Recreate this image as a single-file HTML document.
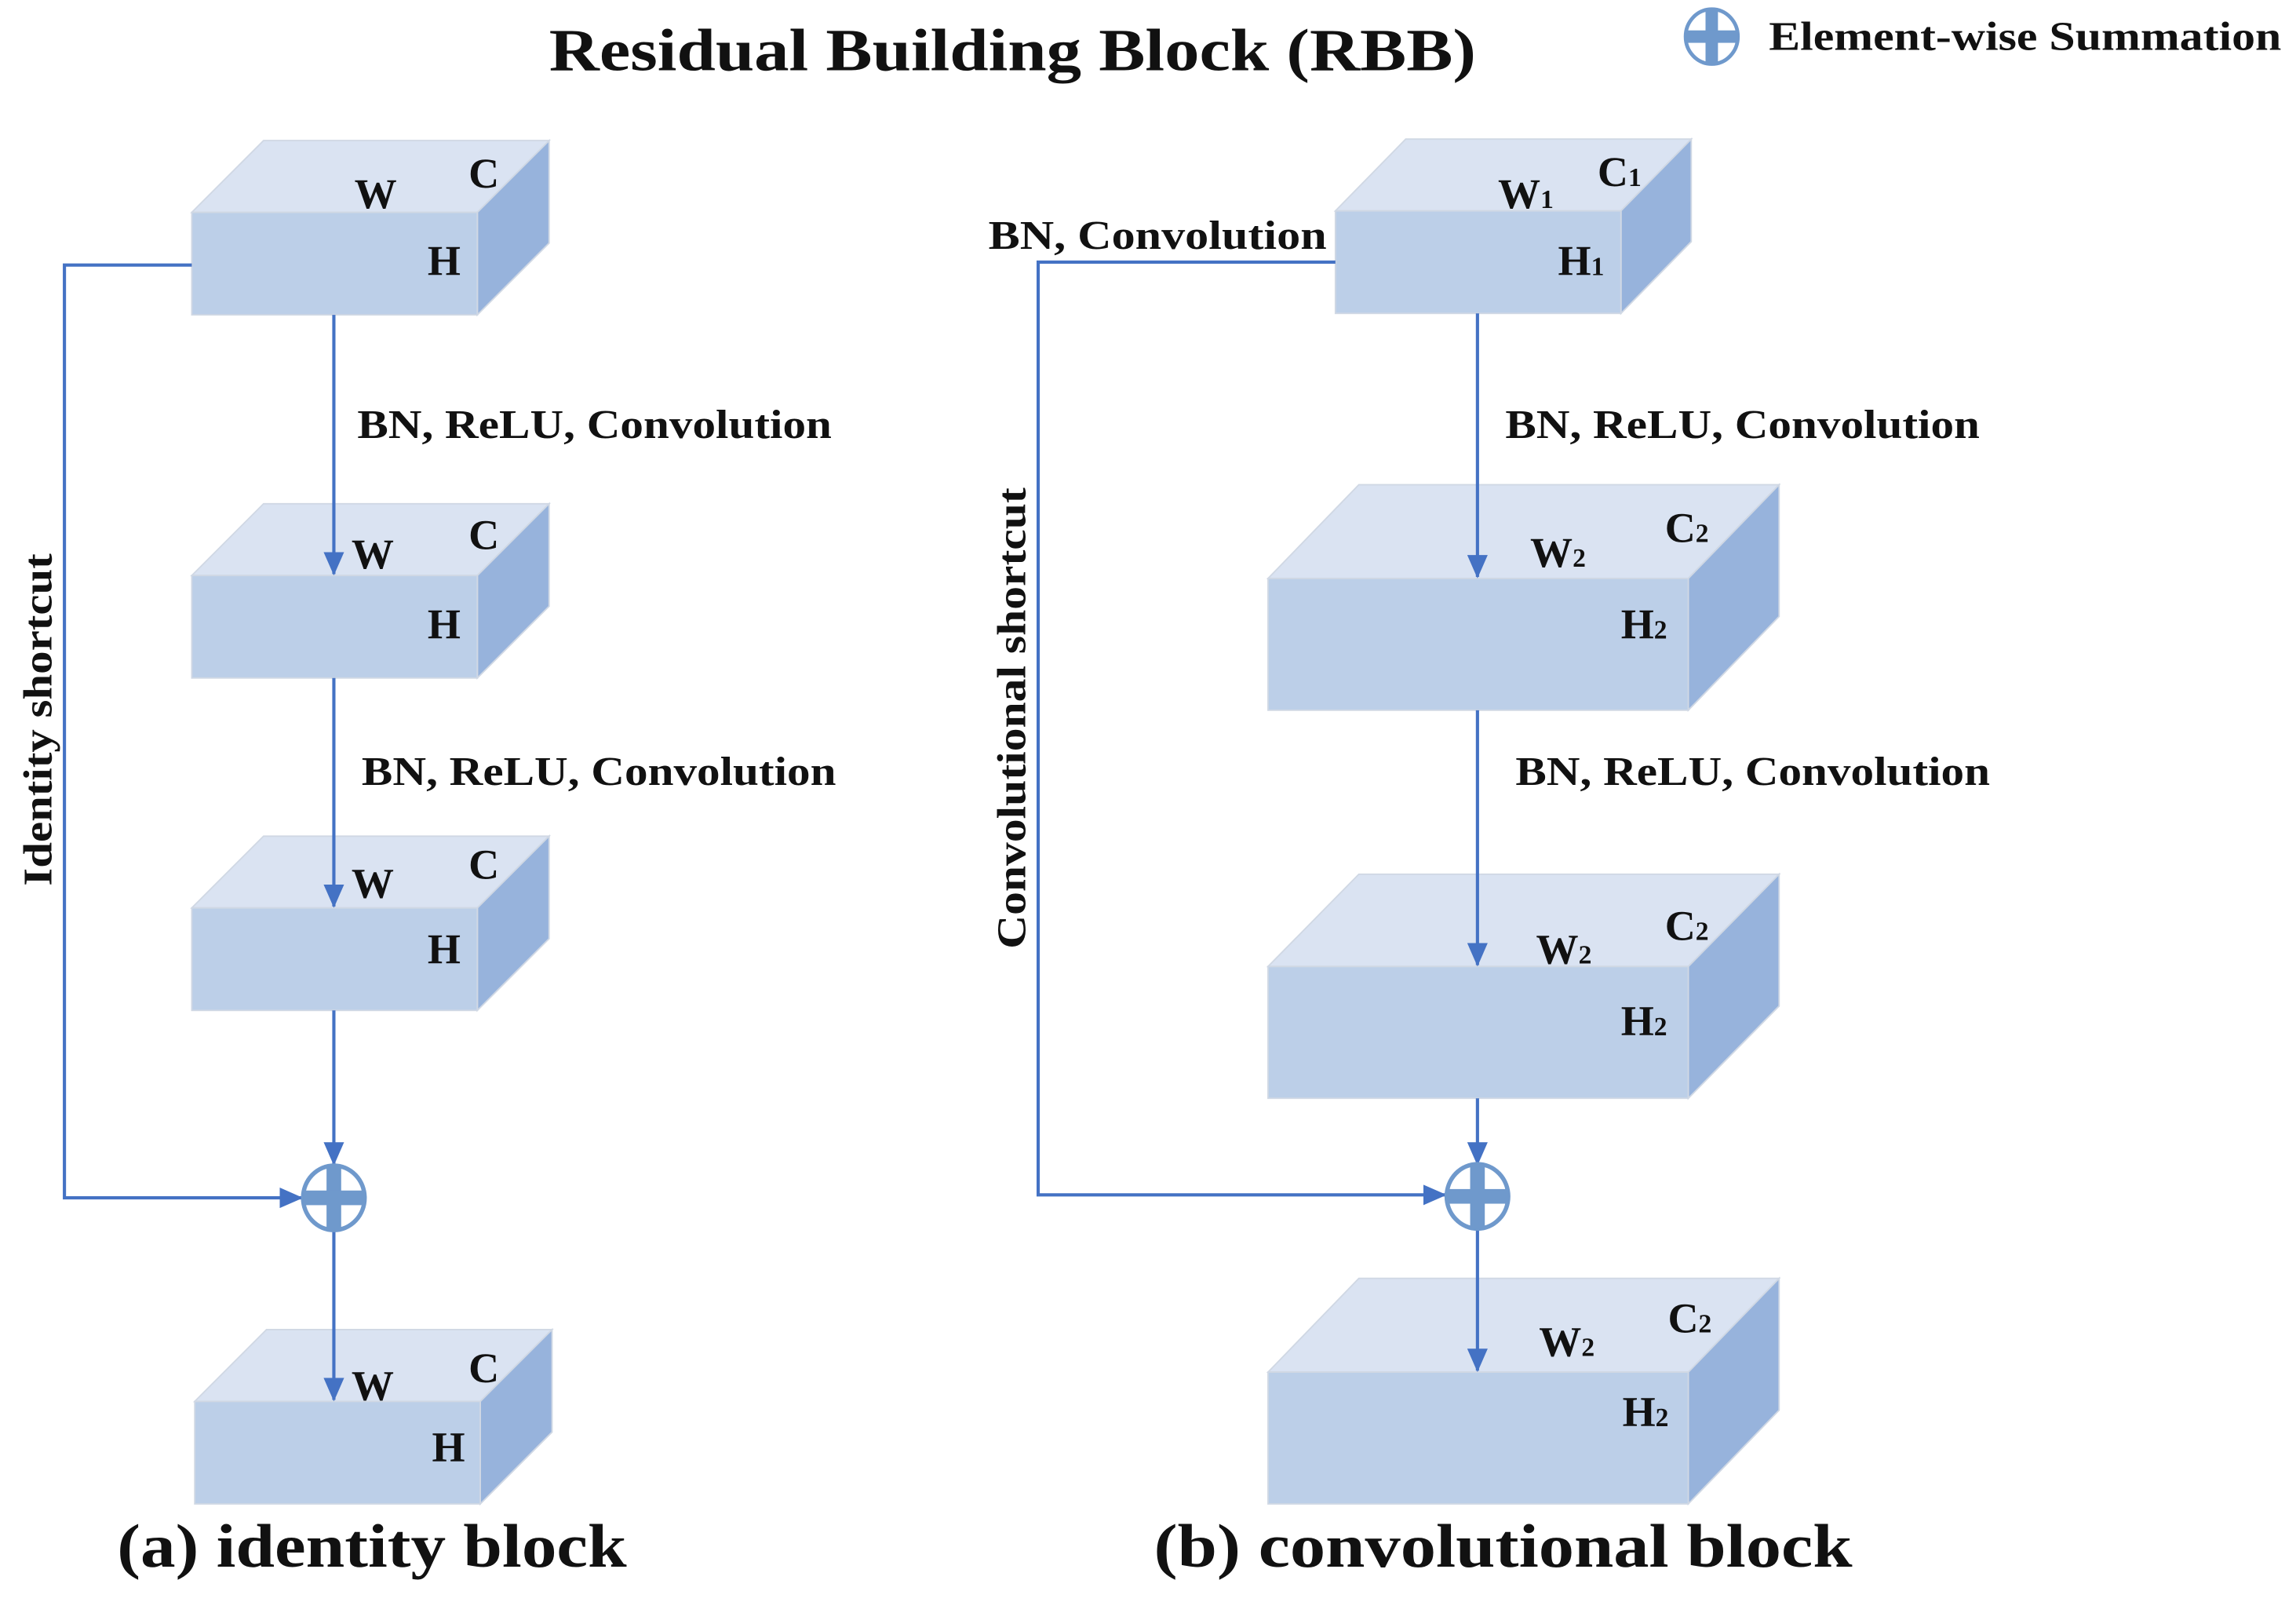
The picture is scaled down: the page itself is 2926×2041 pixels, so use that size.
<!DOCTYPE html>
<html><head><meta charset="utf-8"><style>
html,body{margin:0;padding:0;background:#fff;}
svg{display:block;}
text{font-family:"Liberation Serif",serif;fill:#111;}
</style></head><body>
<svg width="2926" height="2041" viewBox="0 0 1568 1094" preserveAspectRatio="none" xmlns="http://www.w3.org/2000/svg">
<defs>
<marker id="ar" markerWidth="16" markerHeight="14" refX="15" refY="7" orient="auto" markerUnits="userSpaceOnUse">
<path d="M0,0 L16,7 L0,14 z" fill="#4472c4"/>
</marker>
<g id="sum">
<ellipse cx="0" cy="0" rx="21" ry="22" fill="#fff" stroke="#6f99cc" stroke-width="3"/>
<rect x="-5" y="-22" width="10" height="44" fill="#6f99cc"/>
<rect x="-21" y="-5" width="42" height="10" fill="#6f99cc"/>
</g>
</defs>
<rect width="1568" height="1094" fill="#fff"/>

<text x="375" y="48" font-size="41" font-weight="bold" textLength="633" lengthAdjust="spacingAndGlyphs">Residual Building Block (RBB)</text>
<use href="#sum" transform="translate(1169,25) scale(0.85)"/>
<text x="1208" y="34" font-size="28" font-weight="bold" textLength="350" lengthAdjust="spacingAndGlyphs">Element-wise Summation</text>

<g stroke="#d0d8e4" stroke-width="1">
<polygon points="131,145 180,96 375,96 326,145" fill="#dae3f2"/>
<polygon points="326,145 375,96 375,166 326,215" fill="#97b3dc"/>
<rect x="131" y="145" width="195" height="70" fill="#bccfe8"/>

<polygon points="131,393 180,344 375,344 326,393" fill="#dae3f2"/>
<polygon points="326,393 375,344 375,414 326,463" fill="#97b3dc"/>
<rect x="131" y="393" width="195" height="70" fill="#bccfe8"/>

<polygon points="131,620 180,571 375,571 326,620" fill="#dae3f2"/>
<polygon points="326,620 375,571 375,641 326,690" fill="#97b3dc"/>
<rect x="131" y="620" width="195" height="70" fill="#bccfe8"/>

<polygon points="133,957 182,908 377,908 328,957" fill="#dae3f2"/>
<polygon points="328,957 377,908 377,978 328,1027" fill="#97b3dc"/>
<rect x="133" y="957" width="195" height="70" fill="#bccfe8"/>

<polygon points="912,144 960,95 1155,95 1107,144" fill="#dae3f2"/>
<polygon points="1107,144 1155,95 1155,165 1107,214" fill="#97b3dc"/>
<rect x="912" y="144" width="195" height="70" fill="#bccfe8"/>

<polygon points="866,395 928,331 1215,331 1153,395" fill="#dae3f2"/>
<polygon points="1153,395 1215,331 1215,421 1153,485" fill="#97b3dc"/>
<rect x="866" y="395" width="287" height="90" fill="#bccfe8"/>

<polygon points="866,660 928,597 1215,597 1153,660" fill="#dae3f2"/>
<polygon points="1153,660 1215,597 1215,687 1153,750" fill="#97b3dc"/>
<rect x="866" y="660" width="287" height="90" fill="#bccfe8"/>

<polygon points="866,937 928,873 1215,873 1153,937" fill="#dae3f2"/>
<polygon points="1153,937 1215,873 1215,963 1153,1027" fill="#97b3dc"/>
<rect x="866" y="937" width="287" height="90" fill="#bccfe8"/>
</g>

<g stroke="#4472c4" stroke-width="2.2" fill="none">
<line x1="228" y1="215" x2="228" y2="392" marker-end="url(#ar)"/>
<line x1="228" y1="463" x2="228" y2="619" marker-end="url(#ar)"/>
<line x1="228" y1="690" x2="228" y2="795" marker-end="url(#ar)"/>
<line x1="228" y1="840" x2="228" y2="956" marker-end="url(#ar)"/>
<polyline points="131,181 44,181 44,818 206,818" marker-end="url(#ar)"/>

<line x1="1009" y1="214" x2="1009" y2="394" marker-end="url(#ar)"/>
<line x1="1009" y1="485" x2="1009" y2="659" marker-end="url(#ar)"/>
<line x1="1009" y1="750" x2="1009" y2="795" marker-end="url(#ar)"/>
<line x1="1009" y1="839" x2="1009" y2="936" marker-end="url(#ar)"/>
<polyline points="912,179 709,179 709,816 987,816" marker-end="url(#ar)"/>
</g>
<use href="#sum" transform="translate(228,818)"/>
<use href="#sum" transform="translate(1009,817)"/>

<g font-size="29" font-weight="bold">
<text x="242" y="142">W</text><text x="320" y="128">C</text><text x="292" y="188">H</text>
<text x="240" y="388">W</text><text x="320" y="375">C</text><text x="292" y="436">H</text>
<text x="240" y="613">W</text><text x="320" y="600">C</text><text x="292" y="658">H</text>
<text x="240" y="956">W</text><text x="320" y="944">C</text><text x="295" y="998">H</text>
</g>
<g font-size="29" font-weight="bold">
<text x="1023" y="142">W<tspan font-size="18">1</tspan></text><text x="1091" y="127">C<tspan font-size="18">1</tspan></text><text x="1064" y="188">H<tspan font-size="18">1</tspan></text>
<text x="1045" y="387">W<tspan font-size="18">2</tspan></text><text x="1137" y="370">C<tspan font-size="18">2</tspan></text><text x="1107" y="436">H<tspan font-size="18">2</tspan></text>
<text x="1049" y="658">W<tspan font-size="18">2</tspan></text><text x="1137" y="642">C<tspan font-size="18">2</tspan></text><text x="1107" y="707">H<tspan font-size="18">2</tspan></text>
<text x="1051" y="926">W<tspan font-size="18">2</tspan></text><text x="1139" y="910">C<tspan font-size="18">2</tspan></text><text x="1108" y="974">H<tspan font-size="18">2</tspan></text>
</g>

<g font-size="28" font-weight="bold">
<text x="244" y="299" textLength="324" lengthAdjust="spacingAndGlyphs">BN, ReLU, Convolution</text>
<text x="247" y="536" textLength="324" lengthAdjust="spacingAndGlyphs">BN, ReLU, Convolution</text>
<text x="1028" y="299" textLength="324" lengthAdjust="spacingAndGlyphs">BN, ReLU, Convolution</text>
<text x="1035" y="536" textLength="324" lengthAdjust="spacingAndGlyphs">BN, ReLU, Convolution</text>
<text x="675" y="170" textLength="231" lengthAdjust="spacingAndGlyphs">BN, Convolution</text>
<text transform="translate(35,605) rotate(-90)" textLength="227" lengthAdjust="spacingAndGlyphs">Identity shortcut</text>
<text transform="translate(700,648) rotate(-90)" textLength="315" lengthAdjust="spacingAndGlyphs">Convolutional shortcut</text>
</g>

<text x="80" y="1070" font-size="42" font-weight="bold" textLength="348" lengthAdjust="spacingAndGlyphs">(a) identity block</text>
<text x="788" y="1070" font-size="42" font-weight="bold" textLength="477" lengthAdjust="spacingAndGlyphs">(b) convolutional block</text>
</svg>
</body></html>
